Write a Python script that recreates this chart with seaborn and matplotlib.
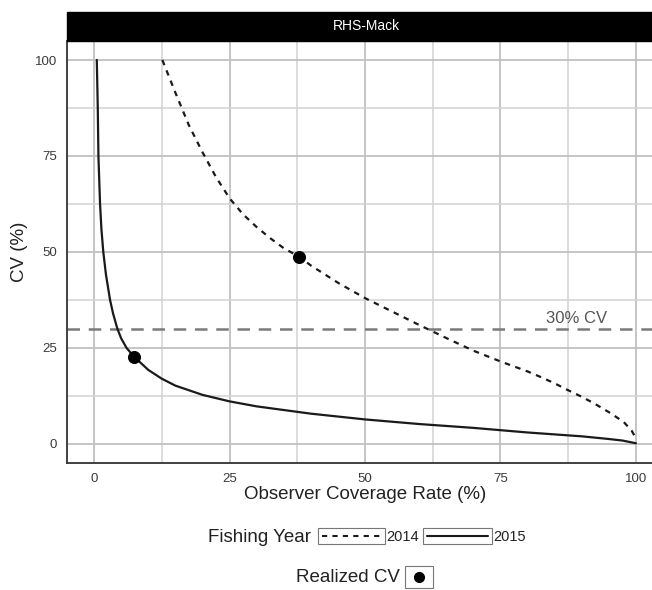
import matplotlib
matplotlib.use("Agg")
import matplotlib.pyplot as plt
import seaborn as sns
import pandas as pd
from matplotlib.patches import Rectangle
from matplotlib.lines import Line2D

# ---- data ----
cov_2014 = [12.6, 15, 17.5, 20, 22.5, 25, 27.5, 30, 32.5, 35, 37.8, 40, 45, 50, 55, 60, 65, 70, 75, 77.5,
            80, 82.5, 85, 87.5, 90, 92.5, 95, 97.7, 99.2, 100]
cv_2014 = [100, 91.5, 83, 76, 69.5, 64, 59.8, 56.5, 53.6, 51, 48.8, 46.5, 42, 38, 34.5, 31, 27.6, 24.3, 21.5, 20.2,
           18.9, 17.4, 15.8, 14, 12.3, 10.4, 8.3, 5.8, 3.5, 1.5]
cov_2015 = [0.5, 0.68, 0.8, 1.1, 1.35, 1.7, 2.2, 2.95, 3.5, 4.3, 5, 6, 7.4, 10, 12.5, 15, 20, 25, 30,
            40, 50, 60, 70, 80, 90, 95, 97.5, 100]
cv_2015 = [100, 87.5, 75, 62.5, 56, 50, 44, 37.5, 34, 30, 27.5, 25, 22.7, 19.3, 17, 15.2, 12.8, 11.1, 9.8,
           7.9, 6.4, 5.2, 4.2, 3.0, 2.0, 1.3, 0.9, 0.2]
real_year = ["2014", "2015"]
real_cov = [37.8, 7.4]
real_cv = [48.8, 22.7]
cv_threshold = 30
panel_title = "RHS-Mack"
x_ticks = [0, 25, 50, 75, 100]
y_ticks = [0, 25, 50, 75, 100]

curves = pd.concat([
    pd.DataFrame({"coverage": cov_2014, "cv": cv_2014, "year": "2014"}),
    pd.DataFrame({"coverage": cov_2015, "cv": cv_2015, "year": "2015"}),
])
points = pd.DataFrame({"coverage": real_cov, "cv": real_cv, "year": real_year})

sns.set_style("white")
plt.rcParams["font.family"] = ["Liberation Sans", "DejaVu Sans"]

W, H = 652, 590
fig = plt.figure(figsize=(W / 100, H / 100), dpi=100)

def fx(px):
    return px / W

def fy(py):
    return 1 - py / H

ax_l, ax_r, ax_t, ax_b = 67, 663, 40.8, 463.2
ax = fig.add_axes([fx(ax_l), fy(ax_b), (ax_r - ax_l) / W, (ax_b - ax_t) / H])
ax.set_xlim(-5, 105)
ax.set_ylim(-5, 105)

# grid
ax.set_xticks(x_ticks)
ax.set_yticks(y_ticks)
ax.set_xticks([12.5, 37.5, 62.5, 87.5], minor=True)
ax.set_yticks([12.5, 37.5, 62.5, 87.5], minor=True)
ax.grid(True, which="major", color="#c0c0c0", linewidth=1.3)
ax.grid(True, which="minor", color="#d2d2d2", linewidth=1.1)
ax.set_axisbelow(True)

# threshold line
ax.axhline(cv_threshold, color="#7a7a7a", linewidth=1.8, dashes=(5, 3.5), zorder=2)
ax.text(89, cv_threshold + 0.8, f"{cv_threshold}% CV", color="#555555", fontsize=12,
        ha="center", va="bottom", zorder=3)

sns.lineplot(data=curves, x="coverage", y="cv", style="year",
             dashes={"2014": (2.5, 2.5), "2015": ""}, color="#1a1a1a",
             linewidth=1.6, sort=False, estimator=None, legend=False, ax=ax, zorder=4)
sns.scatterplot(data=points, x="coverage", y="cv", color="black", s=75,
                edgecolor="black", legend=False, ax=ax, zorder=5)

for s in ["top", "right"]:
    ax.spines[s].set_visible(False)
for s in ["left", "bottom"]:
    ax.spines[s].set_color("#333333")
    ax.spines[s].set_linewidth(1.3)

ax.tick_params(axis="both", which="major", length=4, width=1, color="#555555",
               labelsize=9.5, labelcolor="#3a3a3a", pad=3)
ax.tick_params(axis="both", which="minor", length=0)
ax.set_xlabel("Observer Coverage Rate (%)", fontsize=13.5, color="#222222", labelpad=1)
ax.set_ylabel("CV (%)", fontsize=13.5, color="#222222", labelpad=5)

# facet strip
fig.add_artist(Rectangle((fx(ax_l), fy(ax_t)), (ax_r - ax_l) / W, (ax_t - 12) / H,
                         transform=fig.transFigure, facecolor="black",
                         edgecolor="black", zorder=5))
fig.text(fx(366), fy(26.5), panel_title, color="white", fontsize=10,
         ha="center", va="center", zorder=6)

# legend 1: Fishing Year
fig.text(fx(311), fy(537), "Fishing Year", fontsize=13.5, color="#222222",
         ha="right", va="center")
for (x0, x1, lab, dash) in [(318, 385, "2014", (2.5, 2.5)), (423, 492, "2015", None)]:
    fig.add_artist(Rectangle((fx(x0), fy(544)), (x1 - x0) / W, 16 / H,
                             transform=fig.transFigure, facecolor="white",
                             edgecolor="#777777", linewidth=0.8))
    ln = Line2D([fx(x0 + 4), fx(x1 - 4)], [fy(536), fy(536)],
                transform=fig.transFigure, color="#1a1a1a", linewidth=1.5)
    if dash:
        ln.set_dashes(dash)
    fig.add_artist(ln)
    fig.text(fx(x1 + 1.5), fy(537), lab, fontsize=10.5, color="#222222",
             ha="left", va="center")

# legend 2: Realized CV
fig.text(fx(400), fy(578), "Realized CV", fontsize=13.5, color="#222222",
         ha="right", va="center")
fig.add_artist(Rectangle((fx(405), fy(588)), 28 / W, 22 / H,
                         transform=fig.transFigure, facecolor="white",
                         edgecolor="#777777", linewidth=0.8))
fig.add_artist(Line2D([fx(419)], [fy(577)], transform=fig.transFigure,
                      marker="o", markersize=7, color="black", linestyle="none"))

fig.savefig("out.png", dpi=100)
